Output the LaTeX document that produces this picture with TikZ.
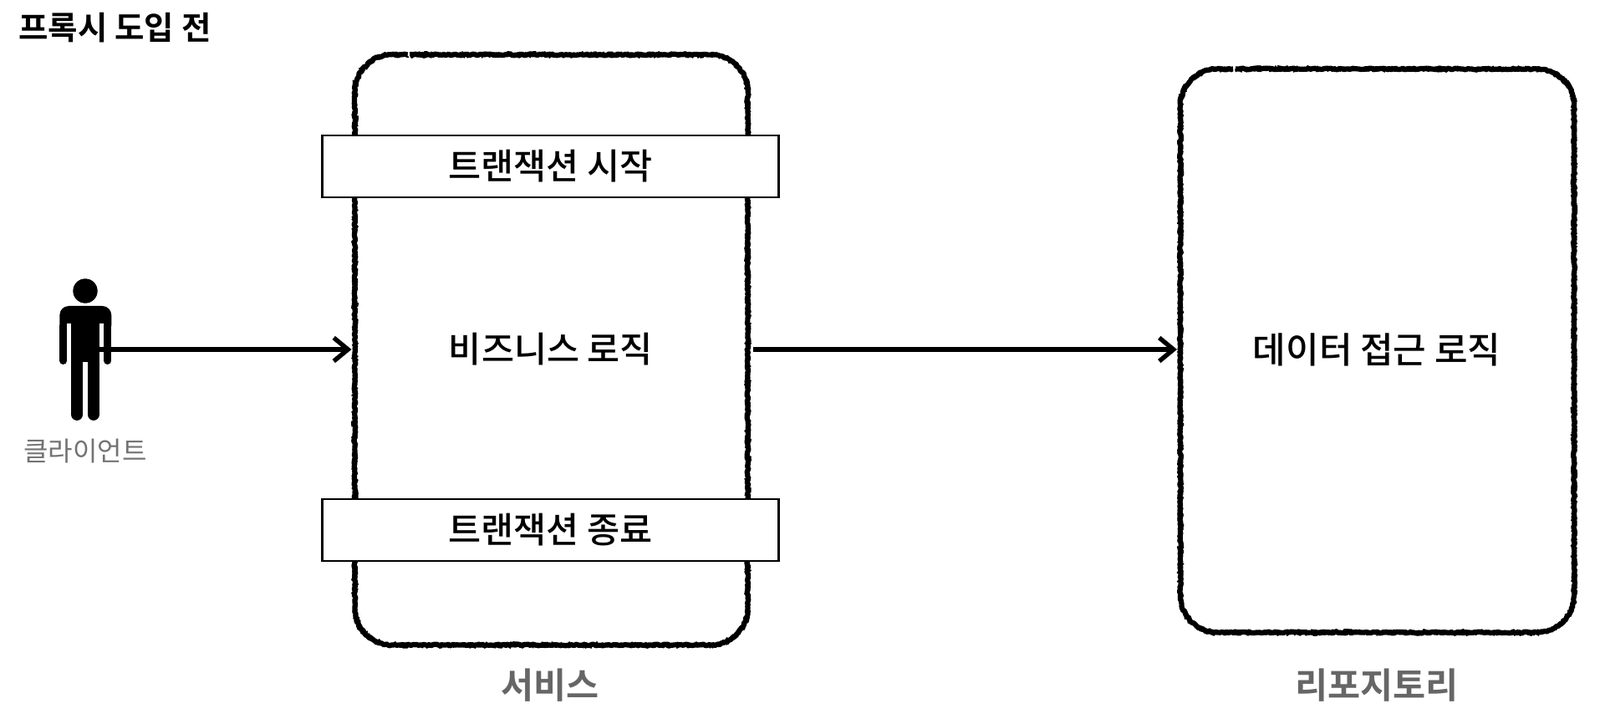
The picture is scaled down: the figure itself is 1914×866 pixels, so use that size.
\documentclass[tikz,border=0pt]{standalone}
\usepackage{fontspec}
\setmainfont{Noto Sans CJK KR Medium}
\newfontfamily\krbold{Noto Sans CJK KR Bold}
\newfontfamily\krregular{Noto Sans CJK KR}
\usetikzlibrary{arrows.meta,decorations.pathmorphing}

\tikzset{
    framebox/.style={inner sep=0pt, outer sep=2pt},
    chalk/.style={
        preaction={draw=black, line width=6.2pt, line join=round, decorate,
            decoration={random steps, segment length=2pt, amplitude=.9pt}},
        postaction={draw=black, line width=1.8pt, line join=round, decorate,
            decoration={random steps, segment length=1.5pt, amplitude=3.6pt}}
    },
    txbox/.style={draw=black, fill=white, line width=2.8pt, minimum width=546pt, minimum height=74pt, font=\fontsize{42.5}{42.5}\selectfont},
    logic/.style={font=\fontsize{42.5}{42.5}\selectfont},
    caption/.style={text=black!60, font=\fontsize{42.5}{42.5}\krbold},
    flow/.style={-{Straight Barb[length=17pt,width=28pt,line width=5.4pt]}, line width=5.4pt, black, shorten >=2pt},
    limb/.style={line cap=round}
}

\begin{document}
\begin{tikzpicture}[x=1pt,y=-1pt]
\useasboundingbox (0,0) rectangle (1914,866);

\node[anchor=west, font=\fontsize{38.5}{38.5}\krbold] (title) at (19,33) {프록시 도입 전};

\node[framebox, minimum width=470pt, minimum height=706pt] (service) at (659.5,418.5) {};
\node[framebox, minimum width=471pt, minimum height=674pt] (repository) at (1647.5,419.5) {};

\foreach \frame in {service,repository}
    \path[chalk] ([xshift=68pt,yshift=-2pt]\frame.north west) -- ([xshift=-46pt,yshift=-2pt]\frame.north east)
        .. controls +(24,0) and +(0,-24) .. ([xshift=-2pt,yshift=-46pt]\frame.north east)
        -- ([xshift=-2pt,yshift=46pt]\frame.south east)
        .. controls +(0,24) and +(24,0) .. ([xshift=-46pt,yshift=2pt]\frame.south east)
        -- ([xshift=46pt,yshift=2pt]\frame.south west)
        .. controls +(-24,0) and +(0,24) .. ([xshift=2pt,yshift=46pt]\frame.south west)
        -- ([xshift=2pt,yshift=-46pt]\frame.north west)
        .. controls +(0,-24) and +(-24,0) .. ([xshift=46pt,yshift=-2pt]\frame.north west)
        -- ([xshift=65pt,yshift=-2pt]\frame.north west);

\node[txbox] (txstart) at (658.5,199) {트랜잭션 시작};
\node[txbox] (txend) at (658.5,634) {트랜잭션 종료};
\node[logic] (business) at (659,418) {비즈니스 로직};
\node[logic, font=\fontsize{43}{43}\selectfont] (dataaccess) at (1647,418) {데이터 접근 로직};

\node[caption] (servicename) at (658,820) {서비스};
\node[caption] (repositoryname) at (1647,820) {리포지토리};

% client figure
\fill (102,348) circle (14.7);
\fill[rounded corners=11pt] (71.3,400) -- (71.3,366) -- (133.3,366) -- (133.3,400) -- cycle;
\fill[white] (80,387) rectangle (85,440) (119,387) rectangle (124,440);
\fill (85,380) rectangle (119,433);
\draw[limb, line width=9pt] (75.8,390) -- (75.8,431.5);
\draw[limb, line width=9pt] (128.8,390) -- (128.8,431.5);
\draw[limb, line width=14.5pt] (92.2,420) -- (92.2,495.7);
\draw[limb, line width=14.5pt] (111.8,420) -- (111.8,495.7);
\node[text=black!55, font=\fontsize{32}{32}\krregular] (client) at (102,540) {클라이언트};
\coordinate (clienthand) at (119,418);

\draw[flow] (clienthand) -- (service.west |- clienthand);
\draw[flow, shorten <=4pt] (service.east |- business) -- (repository.west |- dataaccess);
\end{tikzpicture}
\end{document}
